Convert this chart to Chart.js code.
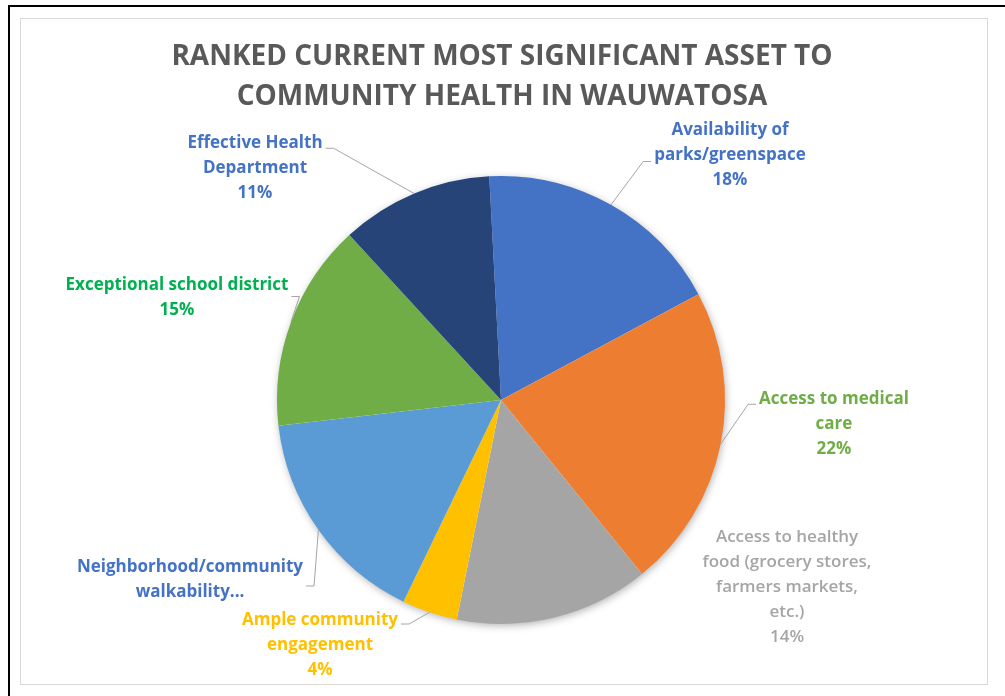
<!DOCTYPE html>
<html>
<head>
<meta charset="utf-8">
<script src="https://cdn.jsdelivr.net/npm/chart.js@4.4.1/dist/chart.umd.min.js"></script>
<style>
	body { margin: 0; background: #fff; }
	canvas { display: block; }
</style>
</head>
<body>
<canvas id="assetChart" width="1005" height="696"></canvas>
<script>
	var asset_names = [
		'Availability of parks/greenspace',
		'Access to medical care',
		'Access to healthy food (grocery stores, farmers markets, etc.)',
		'Ample community engagement',
		'Neighborhood/community walkability...',
		'Exceptional school district',
		'Effective Health Department'
	];
	// percent of respondents; walkability has no printed value, it is the remainder
	var asset_pct = [18, 22, 14, 4, 16, 15, 11];
	var asset_colors = ['#4472C4', '#ED7D31', '#A5A5A5', '#FFC000', '#5B9BD5', '#70AD47', '#264478'];
	var title_lines = ['RANKED CURRENT MOST SIGNIFICANT ASSET TO', 'COMMUNITY HEALTH IN WAUWATOSA'];

	// how each data label is wrapped and where it sits
	var label_layout = [
		{ lines: ['Availability of', 'parks/greenspace'], color: '#4472C4', x: 730, y: 130, side: 'left', at: 1.1 },
		{ lines: ['Access to medical', 'care'], color: '#70AD47', x: 834, y: 399, side: 'left', at: 0.05 },
		{ lines: ['Access to healthy', 'food (grocery stores,', 'farmers markets,', 'etc.)'], color: '#A5A5A5', x: 787, y: 537, side: null, weight: '600' },
		{ lines: ['Ample community', 'engagement'], color: '#FFC000', x: 320, y: 620, side: 'right', at: 0 },
		{ lines: ['Neighborhood/community', 'walkability...'], color: '#4472C4', x: 190, y: 567, side: 'right', at: 0.6, noPct: true },
		{ lines: ['Exceptional school district'], color: '#00B050', x: 177, y: 285, side: 'right', at: 0.3 },
		{ lines: ['Effective Health', 'Department'], color: '#4472C4', x: 255, y: 143, side: 'right', at: 0.05 }
	];
	var line_h = 25;

	var framePlugin = {
		id: 'frame',
		beforeDraw: function(chart) {
			var c = chart.ctx;
			c.save();
			c.fillStyle = '#fff';
			c.fillRect(0, 0, chart.width, chart.height);
			c.fillStyle = '#000';
			c.fillRect(8, 5, chart.width - 8, 2);
			c.fillRect(8, 5, 2, chart.height - 5);
			c.strokeStyle = '#D9D9D9';
			c.lineWidth = 1;
			c.strokeRect(20.5, 18.5, 967, 666);
			c.restore();
		},
		beforeDatasetsDraw: function(chart) {
			// soft shadow under the whole pie
			var arc = chart.getDatasetMeta(0).data[0];
			var c = chart.ctx;
			c.save();
			c.shadowColor = 'rgba(0,0,0,0.35)';
			c.shadowBlur = 9;
			c.shadowOffsetX = 1;
			c.shadowOffsetY = 2;
			c.fillStyle = '#fff';
			c.beginPath();
			c.arc(arc.x, arc.y, arc.outerRadius - 1, 0, Math.PI * 2);
			c.fill();
			c.restore();
		},
		afterDatasetsDraw: function(chart) {
			var c = chart.ctx;
			var meta = chart.getDatasetMeta(0);
			c.save();
			c.textAlign = 'center';
			c.textBaseline = 'middle';

			c.font = 'bold 28px "Open Sans"';
			c.fillStyle = '#595959';
			c.fillText(title_lines[0], 502, 57);
			c.fillText(title_lines[1], 502, 97);

			for (var i = 0; i < label_layout.length; i++) {
				var lab = label_layout[i];
				var lines = lab.lines.slice();
				if (!lab.noPct) lines.push(chart.data.datasets[0].data[i] + '%');
				c.font = (lab.weight || 'bold') + ' 17px "Open Sans"';
				c.fillStyle = lab.color;
				var w = 0;
				for (var k = 0; k < lines.length; k++) {
					c.fillText(lines[k], lab.x, lab.y + k * line_h);
					w = Math.max(w, c.measureText(lines[k]).width);
				}
				if (!lab.side) continue;

				// leader line from the label box edge to the slice's mid point on the rim
				var arc = meta.data[i];
				var mid = (arc.startAngle + arc.endAngle) / 2;
				var ex = arc.x + Math.cos(mid) * arc.outerRadius;
				var ey = arc.y + Math.sin(mid) * arc.outerRadius;
				var dir = lab.side == 'right' ? 1 : -1;
				var ax = lab.x + dir * (w / 2 + 3);
				var ay = lab.y + lab.at * line_h + 4;
				c.strokeStyle = '#A6A6A6';
				c.lineWidth = 1;
				c.beginPath();
				c.moveTo(ax, ay);
				c.lineTo(ax + dir * 8, ay);
				c.lineTo(ex, ey);
				c.stroke();
			}
			c.restore();
		}
	};

	var ctx = document.getElementById('assetChart');
	new Chart(ctx, {
		type: 'pie',
		data: {
			labels: asset_names,
			datasets: [{
				data: asset_pct,
				backgroundColor: asset_colors,
				borderWidth: 0
			}]
		},
		options: {
			responsive: false,
			animation: false,
			rotation: -3,
			layout: { padding: { left: 277, right: 280, top: 176, bottom: 72 } },
			plugins: {
				legend: { display: false },
				tooltip: { enabled: false }
			}
		},
		plugins: [framePlugin]
	});
</script>
</body>
</html>
